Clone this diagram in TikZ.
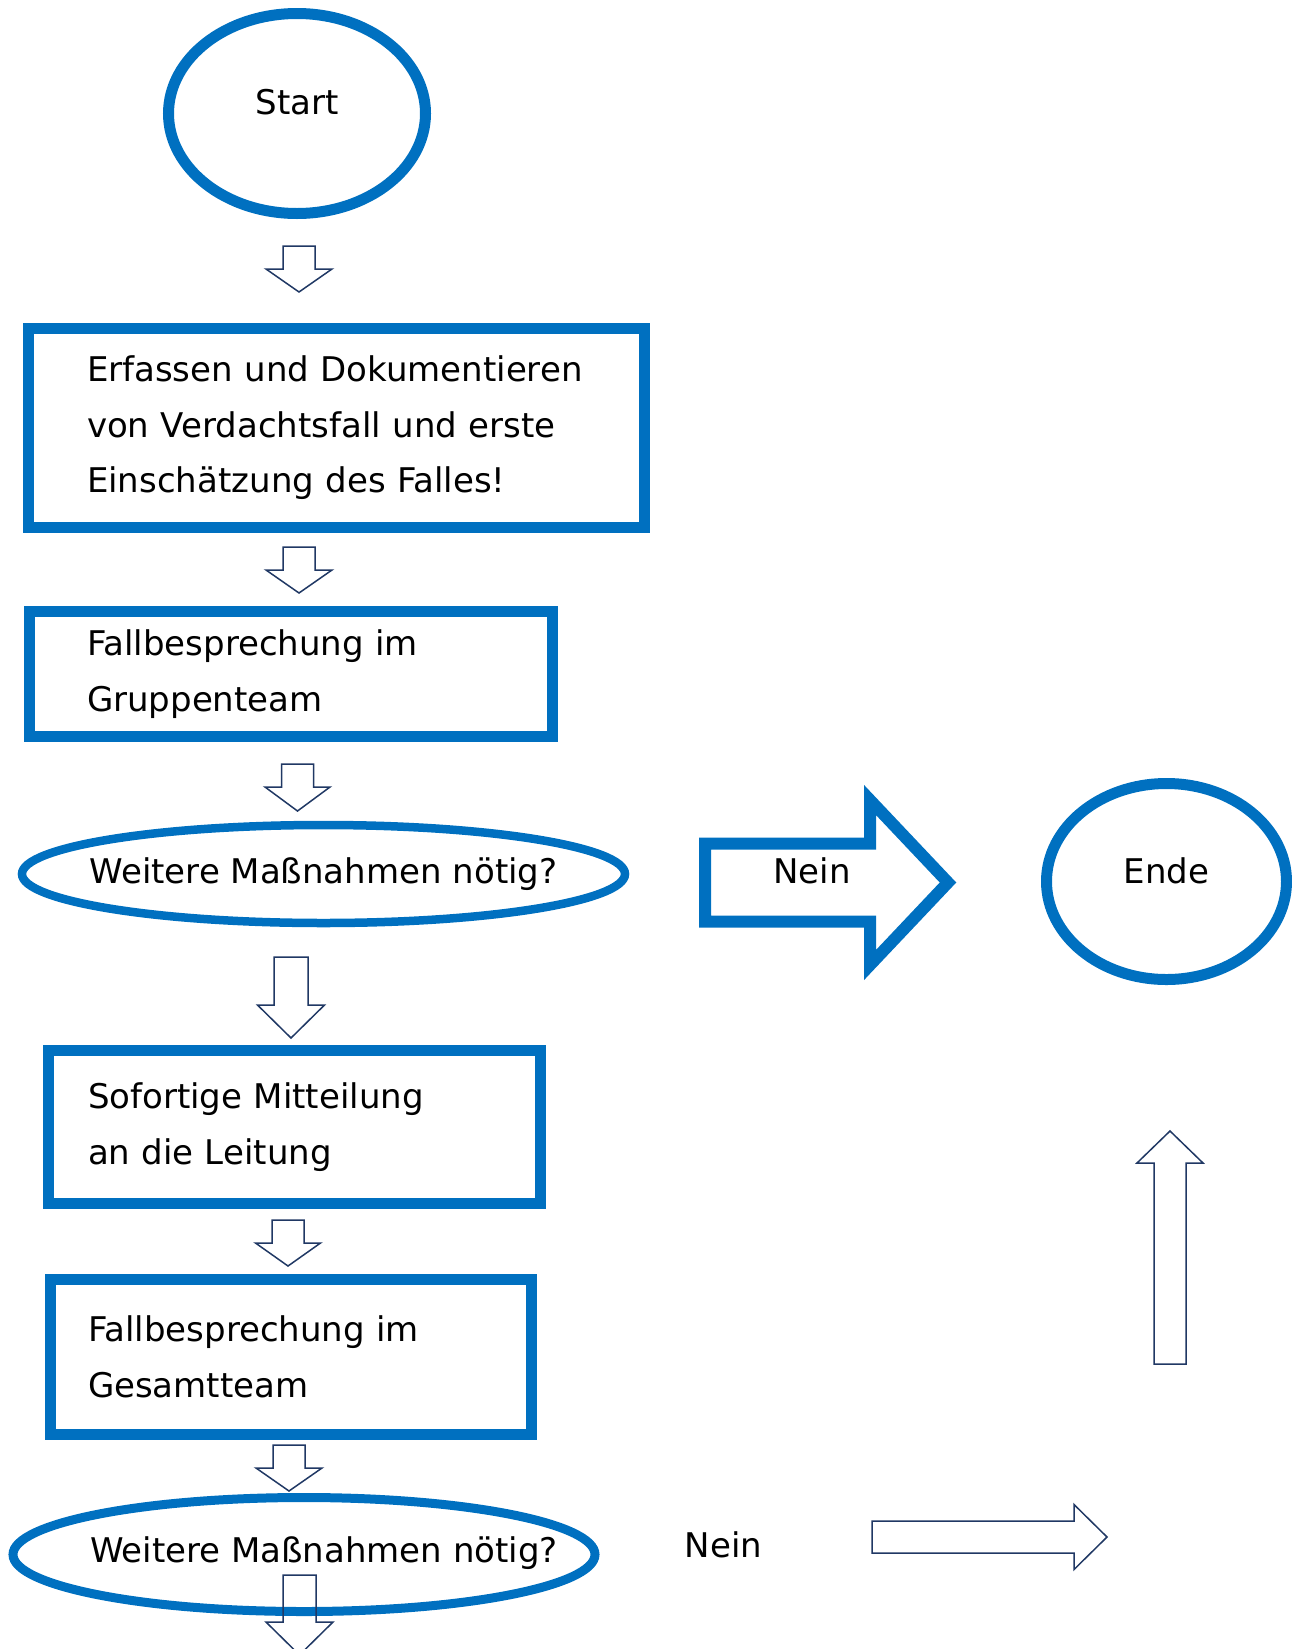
\documentclass[tikz,border=0pt]{standalone}
\usepackage{fontspec}
\setmainfont{DejaVu Sans}
\usetikzlibrary{shapes.geometric}
\definecolor{flowblue}{RGB}{0,112,192}
\definecolor{arrowline}{RGB}{32,56,100}
\tikzset{
  every node/.style={font=\fontsize{34}{55.5}\selectfont},
  box/.style={draw=flowblue,line width=11pt,rectangle,align=left,inner ysep=0pt},
  term/.style={draw=flowblue,line width=11pt,ellipse,inner sep=0pt},
  thinarrow/.style={draw=arrowline,line width=1.5pt,line join=miter},
  neinarrow/.style={draw=flowblue,line width=12pt,line join=miter},
  pics/blockarrow/.style n args={4}{code={
    \draw[pic actions] (-#1,0) -- (#1,0) -- (#1,#3) -- (#2,#3) -- (0,#4) -- (-#2,#3) -- (-#1,#3) -- cycle;}}
}
\begin{document}
\begin{tikzpicture}[x=1pt,y=-1pt]
    \useasboundingbox (0,0) rectangle (1292,1649);
    \node[term,minimum width=257pt,minimum height=200pt](start) at (297,113.5) {\raisebox{23pt}{Start}};
    \pic[thinarrow] at (299,246) {blockarrow={16}{33}{23}{46}};
    \node[box,text width=499pt,inner xsep=58.5pt,minimum height=199pt](erfassen) at (336.5,428) {Erfassen und Dokumentieren\\von Verdachtsfall und erste\\Einschätzung des Falles!};
    \pic[thinarrow] at (299,547) {blockarrow={16}{33}{23}{46}};
    \node[box,text width=408pt,inner xsep=57.5pt,minimum height=125pt](gruppe) at (291,674) {Fallbesprechung im\\Gruppenteam};
    \pic[thinarrow] at (297.5,764) {blockarrow={16}{32.5}{23}{47}};
    \node[term,line width=8.5pt,minimum width=603pt,minimum height=98pt](frage1) at (323.5,874) {\makebox[0pt]{Weitere Maßnahmen nötig?}};

    \pic[neinarrow,rotate=90] at (705,882.5) {blockarrow={39}{82.5}{165}{243}};
    \node(nein1) at (812,871) {Nein};
    \node[term,minimum width=240pt,minimum height=196pt](ende) at (1166.5,881.5) {\raisebox{21pt}{Ende}};

    \pic[thinarrow] at (291,957) {blockarrow={17}{33.5}{48}{81}};
    \node[box,text width=413pt,inner xsep=39.5pt,minimum height=153pt](leitung) at (294.5,1127) {Sofortige Mitteilung\\an die Leitung};
    \pic[thinarrow] at (288,1220) {blockarrow={16}{32.5}{23}{46}};
    \node[box,text width=406pt,inner xsep=37.5pt,minimum height=155pt](gesamt) at (291,1357) {Fallbesprechung im\\Gesamtteam};
    \pic[thinarrow] at (289,1445) {blockarrow={16}{33}{23}{46}};
    \node[term,line width=9pt,minimum width=582pt,minimum height=114pt](frage2) at (304,1554.5) {\makebox[0pt]{\hspace{40pt}\raisebox{10pt}{Weitere Maßnahmen nötig?}}};
    \pic[thinarrow] at (299.5,1575) {blockarrow={16.5}{33.5}{47}{80}};

    \node(nein2) at (723.5,1545) {Nein};
    \pic[thinarrow,rotate=90] at (872,1537) {blockarrow={16}{32.5}{202}{235}};
    \pic[thinarrow,rotate=180] at (1170,1364) {blockarrow={16}{33}{201}{233}};
\end{tikzpicture}
\end{document}
